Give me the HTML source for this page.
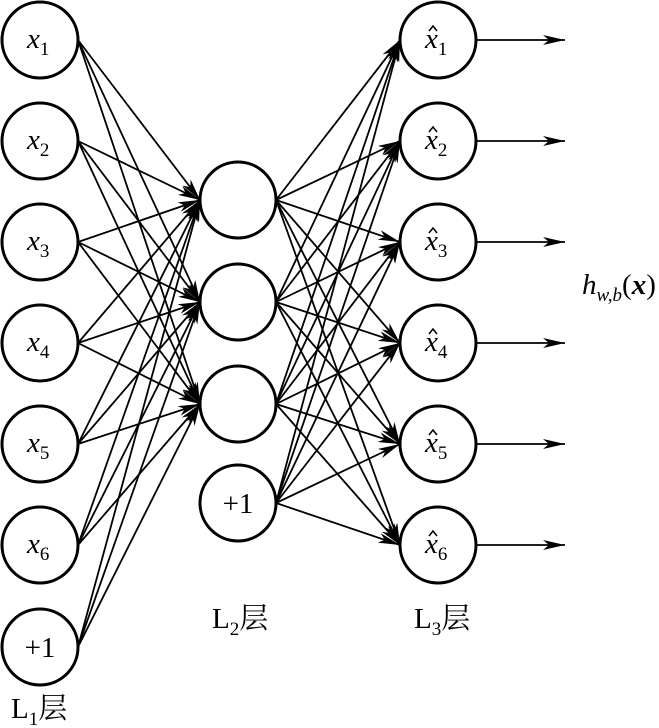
<!DOCTYPE html>
<html><head><meta charset="utf-8"><style>body{margin:0;background:#fff}svg{display:block}text{font-family:"Liberation Serif","Noto Serif CJK SC",serif}</style></head><body>
<svg width="659" height="728" viewBox="0 0 659 728" xmlns="http://www.w3.org/2000/svg">
<defs><marker id="a" viewBox="0 0 22 10" refX="22" refY="5" markerWidth="22" markerHeight="10" markerUnits="userSpaceOnUse" orient="auto"><path d="M0,0 L22,5 L0,10 L6,5 Z" fill="#000"/></marker></defs>
<g id="edges" stroke="#000" stroke-width="1.8" fill="none" marker-end="url(#a)"></g>
<g stroke="#000" stroke-width="3" fill="#fff" id="nodes"></g>
<g font-size="29">
<text x="27" y="48"><tspan font-style="italic">x</tspan><tspan font-size="19" dy="7">1</tspan></text>
<text x="27" y="149"><tspan font-style="italic">x</tspan><tspan font-size="19" dy="7">2</tspan></text>
<text x="27" y="250"><tspan font-style="italic">x</tspan><tspan font-size="19" dy="7">3</tspan></text>
<text x="27" y="351"><tspan font-style="italic">x</tspan><tspan font-size="19" dy="7">4</tspan></text>
<text x="27" y="452"><tspan font-style="italic">x</tspan><tspan font-size="19" dy="7">5</tspan></text>
<text x="27" y="553"><tspan font-style="italic">x</tspan><tspan font-size="19" dy="7">6</tspan></text>
<text x="40" y="657" text-anchor="middle">+1</text>
<text x="238" y="513" text-anchor="middle">+1</text>
<text x="425" y="48"><tspan font-style="italic">x</tspan><tspan font-size="19" dy="7">1</tspan></text>
<text x="425" y="149"><tspan font-style="italic">x</tspan><tspan font-size="19" dy="7">2</tspan></text>
<text x="425" y="250"><tspan font-style="italic">x</tspan><tspan font-size="19" dy="7">3</tspan></text>
<text x="425" y="351"><tspan font-style="italic">x</tspan><tspan font-size="19" dy="7">4</tspan></text>
<text x="425" y="452"><tspan font-style="italic">x</tspan><tspan font-size="19" dy="7">5</tspan></text>
<text x="425" y="553"><tspan font-style="italic">x</tspan><tspan font-size="19" dy="7">6</tspan></text>
<text x="212" y="628">L<tspan font-size="19" dy="7">2</tspan><tspan dy="-7">层</tspan></text>
<text x="414" y="628">L<tspan font-size="19" dy="7">3</tspan><tspan dy="-7">层</tspan></text>
<text x="11" y="718">L<tspan font-size="19" dy="7">1</tspan><tspan dy="-7">层</tspan></text>
<text x="582" y="294"><tspan font-style="italic">h</tspan><tspan font-size="19" dy="7" font-style="italic">w,b</tspan><tspan dy="-7">(</tspan><tspan font-weight="bold" font-style="italic">x</tspan>)</text>
</g>
<g stroke="#000" stroke-width="1.5" fill="none">
<path d="M429,31 L433,26 L437,31"/><path d="M429,132 L433,127 L437,132"/><path d="M429,233 L433,228 L437,233"/><path d="M429,334 L433,329 L437,334"/><path d="M429,435 L433,430 L437,435"/><path d="M429,536 L433,531 L437,536"/>
</g>
<script>
var ns="http://www.w3.org/2000/svg";
var L=[40,141,242,343,444,545,647],M=[200,302,404],R=[40,141,242,343,444,545];
var e=document.getElementById('edges'),n=document.getElementById('nodes');
function ln(x1,y1,x2,y2){var l=document.createElementNS(ns,'line');l.setAttribute('x1',x1);l.setAttribute('y1',y1);l.setAttribute('x2',x2);l.setAttribute('y2',y2);e.appendChild(l);}
function c(x,y,r){var k=document.createElementNS(ns,'circle');k.setAttribute('cx',x);k.setAttribute('cy',y);k.setAttribute('r',r);n.appendChild(k);}
L.forEach(function(y){M.forEach(function(m){ln(78,y,200,m);});});
M.concat([503]).forEach(function(m){R.forEach(function(r){ln(276,m,400,r);});});
R.forEach(function(r){ln(477,r,565,r);});
L.forEach(function(y){c(40,y,38);});
M.concat([503]).forEach(function(y){c(238,y,38);});
R.forEach(function(y){c(438,y,38);});
</script>
</svg>
</body></html>
